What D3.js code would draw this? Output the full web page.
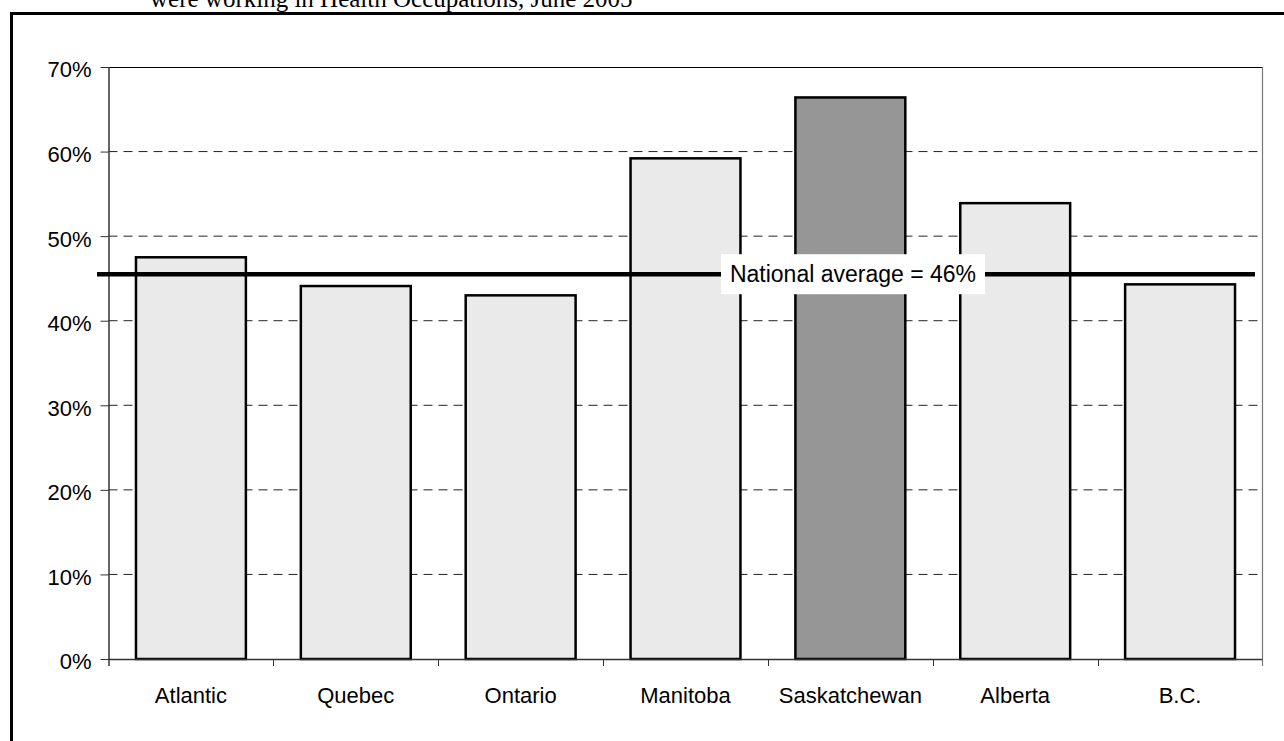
<!DOCTYPE html>
<html>
<head>
<meta charset="utf-8">
<script src="https://cdn.jsdelivr.net/npm/d3@7"></script>
<style>
  html, body { margin: 0; padding: 0; background: #fff; }
  svg { display: block; }
</style>
</head>
<body>
<svg id="chart" width="1284" height="741"></svg>
<script>
// Share of workers in health occupations, by region
const categories = ["Atlantic", "Quebec", "Ontario", "Manitoba", "Saskatchewan", "Alberta", "B.C."];
const values = [47.5, 44.1, 43.0, 59.2, 66.4, 53.9, 44.3];
const highlighted = ["Saskatchewan"];
const nationalAverage = 45.5;
const yTicks = [0, 10, 20, 30, 40, 50, 60, 70];
const titleText = "were working in Health Occupations, June 2005";

const svg = d3.select("#chart");
const FONT = "'Liberation Sans', Arial, sans-serif";
const AXIS_FONT_SIZE = 22;

const plot = { left: 108.5, right: 1262.5, top: 67, bottom: 659 };

const x = d3.scaleBand()
  .domain(categories)
  .range([plot.left, plot.right])
  .paddingInner(1 / 3)
  .paddingOuter(1 / 6);

const y = d3.scaleLinear()
  .domain([0, 70])
  .range([plot.bottom, plot.top]);

// Title line (runs off the top edge of the page)
svg.append("text")
  .attr("x", 150)
  .attr("y", 7)
  .attr("font-family", "'Liberation Serif', 'Times New Roman', serif")
  .attr("font-size", 25)
  .attr("fill", "#000")
  .text(titleText);

// Outer frame
svg.append("path")
  .attr("d", "M11.5,760 L11.5,13.5 L1300,13.5")
  .attr("fill", "none")
  .attr("stroke", "#000")
  .attr("stroke-width", 3);

// Dashed gridlines
svg.append("g")
  .selectAll("line")
  .data(yTicks.filter(t => t > 0 && t < 70))
  .join("line")
  .attr("x1", plot.left)
  .attr("x2", plot.right)
  .attr("y1", d => y(d))
  .attr("y2", d => y(d))
  .attr("stroke", "#222")
  .attr("stroke-width", 1)
  .attr("stroke-dasharray", "9,6");

// Plot-area border: top and right
svg.append("line")
  .attr("x1", plot.left).attr("x2", plot.right)
  .attr("y1", y(70) + 0.5).attr("y2", y(70) + 0.5)
  .attr("stroke", "#000").attr("stroke-width", 1);
svg.append("line")
  .attr("x1", plot.right).attr("x2", plot.right)
  .attr("y1", y(70)).attr("y2", plot.bottom + 7)
  .attr("stroke", "#777").attr("stroke-width", 1.2);

// Bars
svg.append("g")
  .selectAll("rect")
  .data(categories.map((c, i) => ({ c, v: values[i] })))
  .join("rect")
  .attr("x", d => x(d.c))
  .attr("y", d => y(d.v))
  .attr("width", x.bandwidth())
  .attr("height", d => y(0) - y(d.v))
  .attr("fill", d => highlighted.includes(d.c) ? "#969696" : "#eaeaea")
  .attr("stroke", "#000")
  .attr("stroke-width", 2.5);

// Y axis
const yAxis = d3.axisLeft(y)
  .tickValues(yTicks)
  .tickSize(8)
  .tickPadding(9)
  .tickFormat(d => d + "%");
const gy = svg.append("g")
  .attr("transform", `translate(${plot.left},0)`)
  .call(yAxis);
gy.select(".domain").attr("stroke", "#333").attr("stroke-width", 1.5)
  .attr("d", `M0.5,${plot.top}V${plot.bottom + 7}`);
gy.selectAll(".tick line").attr("stroke", "#333");
gy.selectAll(".tick text")
  .attr("font-family", FONT)
  .attr("font-size", AXIS_FONT_SIZE)
  .attr("dy", "0.45em")
  .attr("fill", "#000");

// X axis: baseline, boundary ticks, category labels
const boundaries = categories.map(c => x(c) - x.step() * x.paddingInner() / 2);
svg.append("line")
  .attr("x1", plot.left).attr("x2", plot.right)
  .attr("y1", plot.bottom + 0.5).attr("y2", plot.bottom + 0.5)
  .attr("stroke", "#333").attr("stroke-width", 1.5);
svg.append("g")
  .selectAll("line")
  .data(boundaries.slice(1))
  .join("line")
  .attr("x1", d => Math.round(d) + 0.5)
  .attr("x2", d => Math.round(d) + 0.5)
  .attr("y1", plot.bottom)
  .attr("y2", plot.bottom + 7)
  .attr("stroke", "#333")
  .attr("stroke-width", 1);
svg.append("g")
  .selectAll("text")
  .data(categories)
  .join("text")
  .attr("x", d => x(d) + x.bandwidth() / 2)
  .attr("y", plot.bottom + 44)
  .attr("text-anchor", "middle")
  .attr("font-family", FONT)
  .attr("font-size", AXIS_FONT_SIZE)
  .attr("fill", "#000")
  .text(d => d);

// National average reference line with label
const avgY = y(nationalAverage);
svg.append("line")
  .attr("x1", 97).attr("x2", 1255)
  .attr("y1", avgY).attr("y2", avgY)
  .attr("stroke", "#000")
  .attr("stroke-width", 4.5);

const labelCx = 853;
const label = svg.append("g");
label.append("rect")
  .attr("x", labelCx - 132)
  .attr("y", avgY - 20)
  .attr("width", 264)
  .attr("height", 40)
  .attr("fill", "#fff");
label.append("text")
  .attr("x", labelCx)
  .attr("y", avgY)
  .attr("dy", "0.36em")
  .attr("text-anchor", "middle")
  .attr("font-family", FONT)
  .attr("font-size", 23)
  .attr("fill", "#000")
  .text(`National average = ${Math.round(nationalAverage)}%`);
</script>
</body>
</html>
